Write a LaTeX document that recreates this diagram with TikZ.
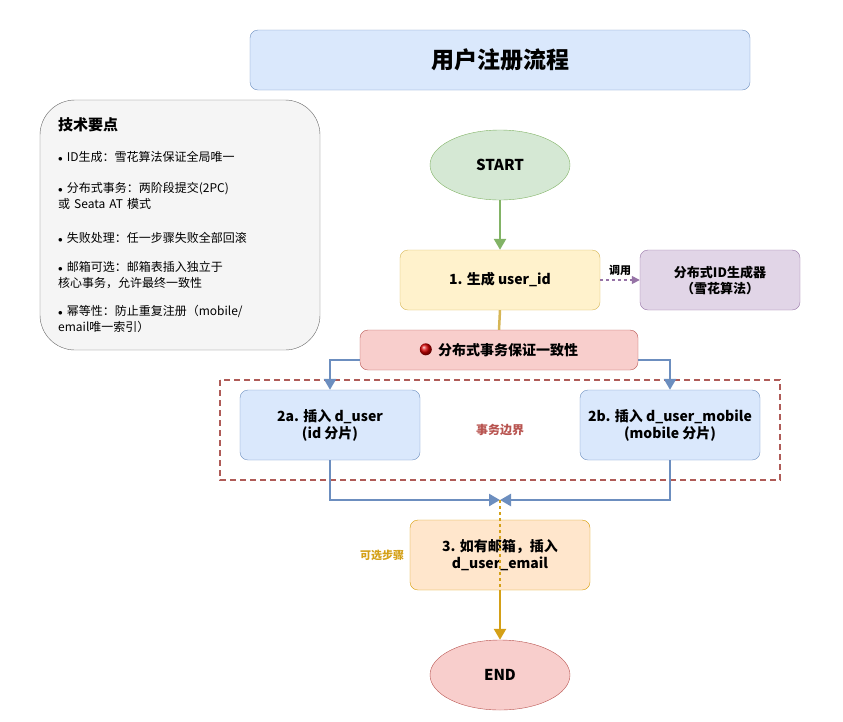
\documentclass[tikz,border=0pt]{standalone}
\usepackage{fontspec}
\setmainfont{Noto Sans CJK SC}
\usetikzlibrary{
    arrows.meta,
    positioning,
    shapes.geometric
}

\definecolor{blueFill}{HTML}{DAE8FC}
\definecolor{blueLine}{HTML}{6C8EBF}
\definecolor{greenFill}{HTML}{D5E8D4}
\definecolor{greenLine}{HTML}{82B366}
\definecolor{yellowFill}{HTML}{FFF2CC}
\definecolor{yellowLine}{HTML}{D6B656}
\definecolor{purpleFill}{HTML}{E1D5E7}
\definecolor{purpleLine}{HTML}{9673A6}
\definecolor{redFill}{HTML}{F8CECC}
\definecolor{redLine}{HTML}{B85450}
\definecolor{orangeFill}{HTML}{FFE6CC}
\definecolor{orangeLine}{HTML}{D79B00}
\definecolor{greyFill}{HTML}{F5F5F5}
\definecolor{greyLine}{HTML}{666666}
\definecolor{optText}{HTML}{D4A017}

\tikzset{
    box/.style={draw, rounded corners=8pt, align=center, font=\bfseries\fontsize{14}{17}\selectfont, inner sep=0pt},
    terminal/.style={ellipse, draw, minimum width=140pt, minimum height=70pt, font=\bfseries\fontsize{15}{17}\selectfont},
    flow/.style={line width=2.5pt, -{Triangle[length=11pt,width=12pt]}}
}

\begin{document}
\begin{tikzpicture}[x=1pt, y=-1pt]
    \useasboundingbox (0,0) rectangle (843,721);

    % title and notes
    \node[box, fill=blueFill, draw=blueLine, minimum width=500pt, minimum height=60pt,
          font=\bfseries\fontsize{23}{26}\selectfont] (title) at (500,60) {用户注册流程};
    \node[draw=greyLine, fill=greyFill, rounded corners=35pt, minimum width=280pt, minimum height=250pt] (notes) at (180,225) {};
    \node[anchor=north west, align=left, text width=270pt, font=\fontsize{12}{16}\selectfont, inner sep=0pt]
        (notestext) at (58,117) {%
        {\bfseries\fontsize{15}{17}\selectfont 技术要点}\\[15pt]
        {\small$\bullet$} ID生成：雪花算法保证全局唯一\\[15pt]
        {\small$\bullet$} 分布式事务：两阶段提交(2PC)\\或 Seata AT 模式\\[18pt]
        {\small$\bullet$} 失败处理：任一步骤失败全部回滚\\[13pt]
        {\small$\bullet$} 邮箱可选：邮箱表插入独立于\\核心事务，允许最终一致性\\[12pt]
        {\small$\bullet$} 幂等性：防止重复注册（mobile/\\email唯一索引）};

    % transaction boundary
    \draw[redLine!85!gray, line width=1.2pt, dash pattern=on 6pt off 4pt] (220,380) rectangle (780,480);
    \node[text=redLine, font=\bfseries\fontsize{12}{14}\selectfont] (boundary) at (500,430) {事务边界};

    % nodes
    \node[terminal, fill=greenFill, draw=greenLine] (start) at (500,165) {START};
    \node[box, fill=yellowFill, draw=yellowLine, minimum width=200pt, minimum height=60pt] (gen) at (500,280) {1. 生成 user\_id};
    \node[box, fill=purpleFill, draw=purpleLine, minimum width=160pt, minimum height=60pt, font=\bfseries\fontsize{13}{16}\selectfont] (idgen) at (720,280) {分布式ID生成器\\（雪花算法）};
    \node[box, fill=redFill, draw=redLine, minimum width=278pt, minimum height=40pt] (tx) at (499,350)
        {\tikz\shade[ball color=red!85!black] (0,0) circle (6pt);\ \ 分布式事务保证一致性};
    \node[box, fill=blueFill, draw=blueLine, minimum width=180pt, minimum height=70pt] (ins1) at (330,425) {2a. 插入 d\_user\\(id 分片)};
    \node[box, fill=blueFill, draw=blueLine, minimum width=180pt, minimum height=70pt] (ins2) at (670,425) {2b. 插入 d\_user\_mobile\\(mobile 分片)};
    \node[box, fill=orangeFill, draw=orangeLine, minimum width=180pt, minimum height=70pt] (email) at (500,555) {3. 如有邮箱，插入\\d\_user\_email};
    \node[terminal, fill=redFill, draw=redLine] (stop) at (500,675) {END};
    \coordinate (merge) at (500,500);
    \node[text=optText, font=\bfseries\fontsize{11}{13}\selectfont] (optional) at (382,555) {可选步骤};

    % connectors
    \draw[flow, greenLine] (start) -- (gen);
    \draw[line width=2.5pt, yellowLine] (gen.south) -- (tx.north);
    \draw[line width=1.5pt, purpleLine, dashed, -{Triangle[length=8pt,width=8pt]}] (gen) -- node[above, text=black, font=\bfseries\fontsize{11}{13}\selectfont] {调用} (idgen);
    \draw[flow, blueLine] (tx.west |- 0,360) -| (ins1);
    \draw[flow, blueLine] (tx.east |- 0,360) -| (ins2);
    \draw[flow, blueLine] (ins1) |- (merge);
    \draw[flow, blueLine] (ins2) |- (merge);
    \draw[line width=1.5pt, optText, dashed] (merge) -- (email.south);
    \draw[flow, optText] (email) -- (stop);
\end{tikzpicture}
\end{document}
